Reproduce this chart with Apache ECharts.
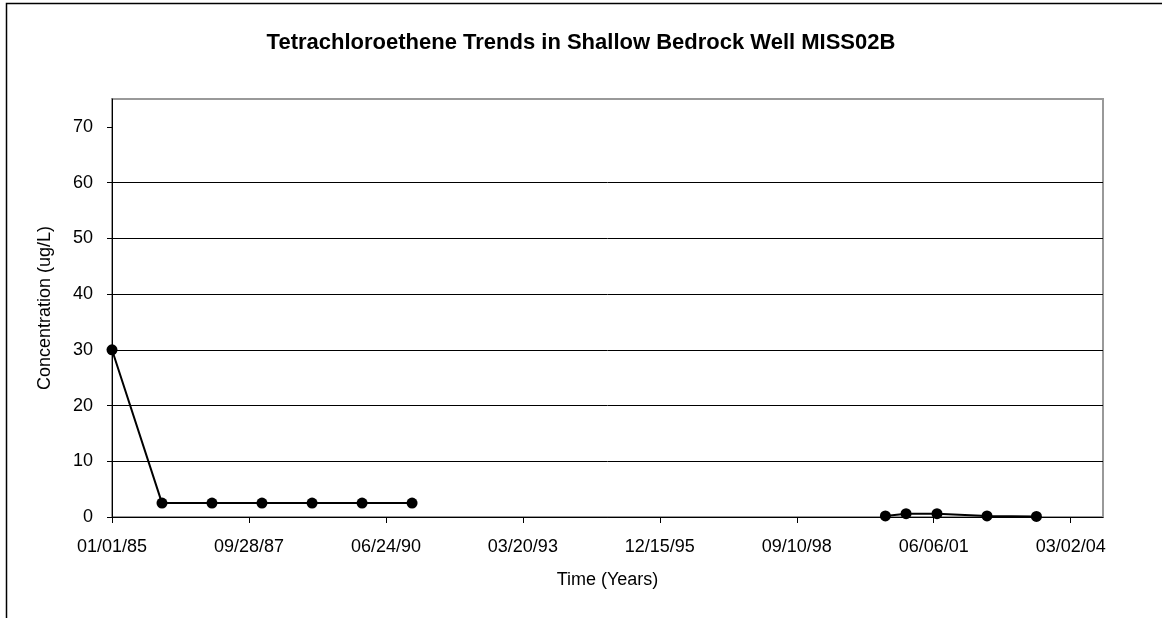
<!DOCTYPE html>
<html>
<head>
<meta charset="utf-8">
<script src="https://cdn.jsdelivr.net/npm/echarts@6/dist/echarts.min.js"></script>
<style>
html,body{margin:0;padding:0;background:#fff;}
#c{width:1162px;height:618px;}
</style>
</head>
<body>
<div id="c"></div>
<script>
// Data
var title = 'Tetrachloroethene Trends in Shallow Bedrock Well MISS02B';
var sampleDates = ['1985-01-01','1986-01-01','1987-01-01','1988-01-01','1989-01-01','1990-01-01','1991-01-01',
                   '2000-06-18','2000-11-16','2001-06-30','2002-06-30','2003-06-26'];
var concentrations = [30, 2.5, 2.5, 2.5, 2.5, 2.5, 2.5, 0.2, 0.6, 0.6, 0.2, 0.1];
var breakAfterIndex = 6; // no line drawn across the 1991-2000 sampling gap
var yTicks = [0, 10, 20, 30, 40, 50, 60, 70];
var xTickDays = [0, 1000, 2000, 3000, 4000, 5000, 6000, 7000];
var xStart = '1985-01-01';
var xMaxDays = 7236;
var yMax = 75;

var DAY = 86400000;
var t0 = Date.parse(xStart + 'T00:00:00Z');
function toDays(s){ return (Date.parse(s + 'T00:00:00Z') - t0) / DAY; }
function pad(n){ return (n < 10 ? '0' : '') + n; }
function fmt(d){
  var dt = new Date(t0 + Math.round(d) * DAY);
  return pad(dt.getUTCMonth()+1) + '/' + pad(dt.getUTCDate()) + '/' + pad(dt.getUTCFullYear() % 100);
}
var seriesData = [];
sampleDates.forEach(function(s, i){
  seriesData.push([toDays(s), concentrations[i]]);
  if (i === breakAfterIndex) seriesData.push([toDays(s) + 1, '-']);
});

var font = 'Liberation Sans, Arial, sans-serif';
var chart = echarts.init(document.getElementById('c'));
chart.setOption({
  animation: false,
  backgroundColor: '#fff',
  title: {
    text: title, left: 'center', top: 27,
    textStyle: {fontFamily: font, fontSize: 22, fontWeight: 'bold', color: '#000'}
  },
  grid: {left: 112, right: 59, top: 99, bottom: 101, show: true, borderColor: '#999', borderWidth: 2, backgroundColor: 'transparent'},
  xAxis: {
    type: 'value', min: 0, max: xMaxDays, interval: 1000,
    name: 'Time (Years)', nameLocation: 'middle', nameGap: 54,
    nameTextStyle: {fontFamily: font, fontSize: 18, color: '#000'},
    axisLine: {show: true, lineStyle: {color: '#000', width: 1}},
    axisTick: {show: true, length: 6, lineStyle: {color: '#000'}, customValues: xTickDays},
    axisLabel: {fontFamily: font, fontSize: 18, color: '#000', margin: 21, customValues: xTickDays, formatter: fmt},
    splitLine: {show: false}
  },
  yAxis: {
    type: 'value', min: 0, max: yMax, interval: 10,
    name: 'Concentration (ug/L)', nameLocation: 'middle', nameGap: 58,
    nameTextStyle: {fontFamily: font, fontSize: 18, color: '#000'},
    axisLine: {show: true, lineStyle: {color: '#000', width: 1}},
    axisTick: {show: true, length: 5, lineStyle: {color: '#000'}, customValues: yTicks},
    axisLabel: {fontFamily: font, fontSize: 18, color: '#000', margin: 19, customValues: yTicks},
    splitLine: {show: true, showMaxLine: false, lineStyle: {color: '#000', width: 1}}
  },
  graphic: [{
    type: 'rect', shape: {x: 6.5, y: 3.5, width: 1300, height: 800},
    style: {fill: 'none', stroke: '#000', lineWidth: 1.5}, silent: true
  }],
  series: [{
    type: 'line', data: seriesData, connectNulls: false,
    lineStyle: {color: '#000', width: 2},
    itemStyle: {color: '#000'},
    symbol: 'circle', symbolSize: 11, showSymbol: true
  }]
});
</script>
</body>
</html>
